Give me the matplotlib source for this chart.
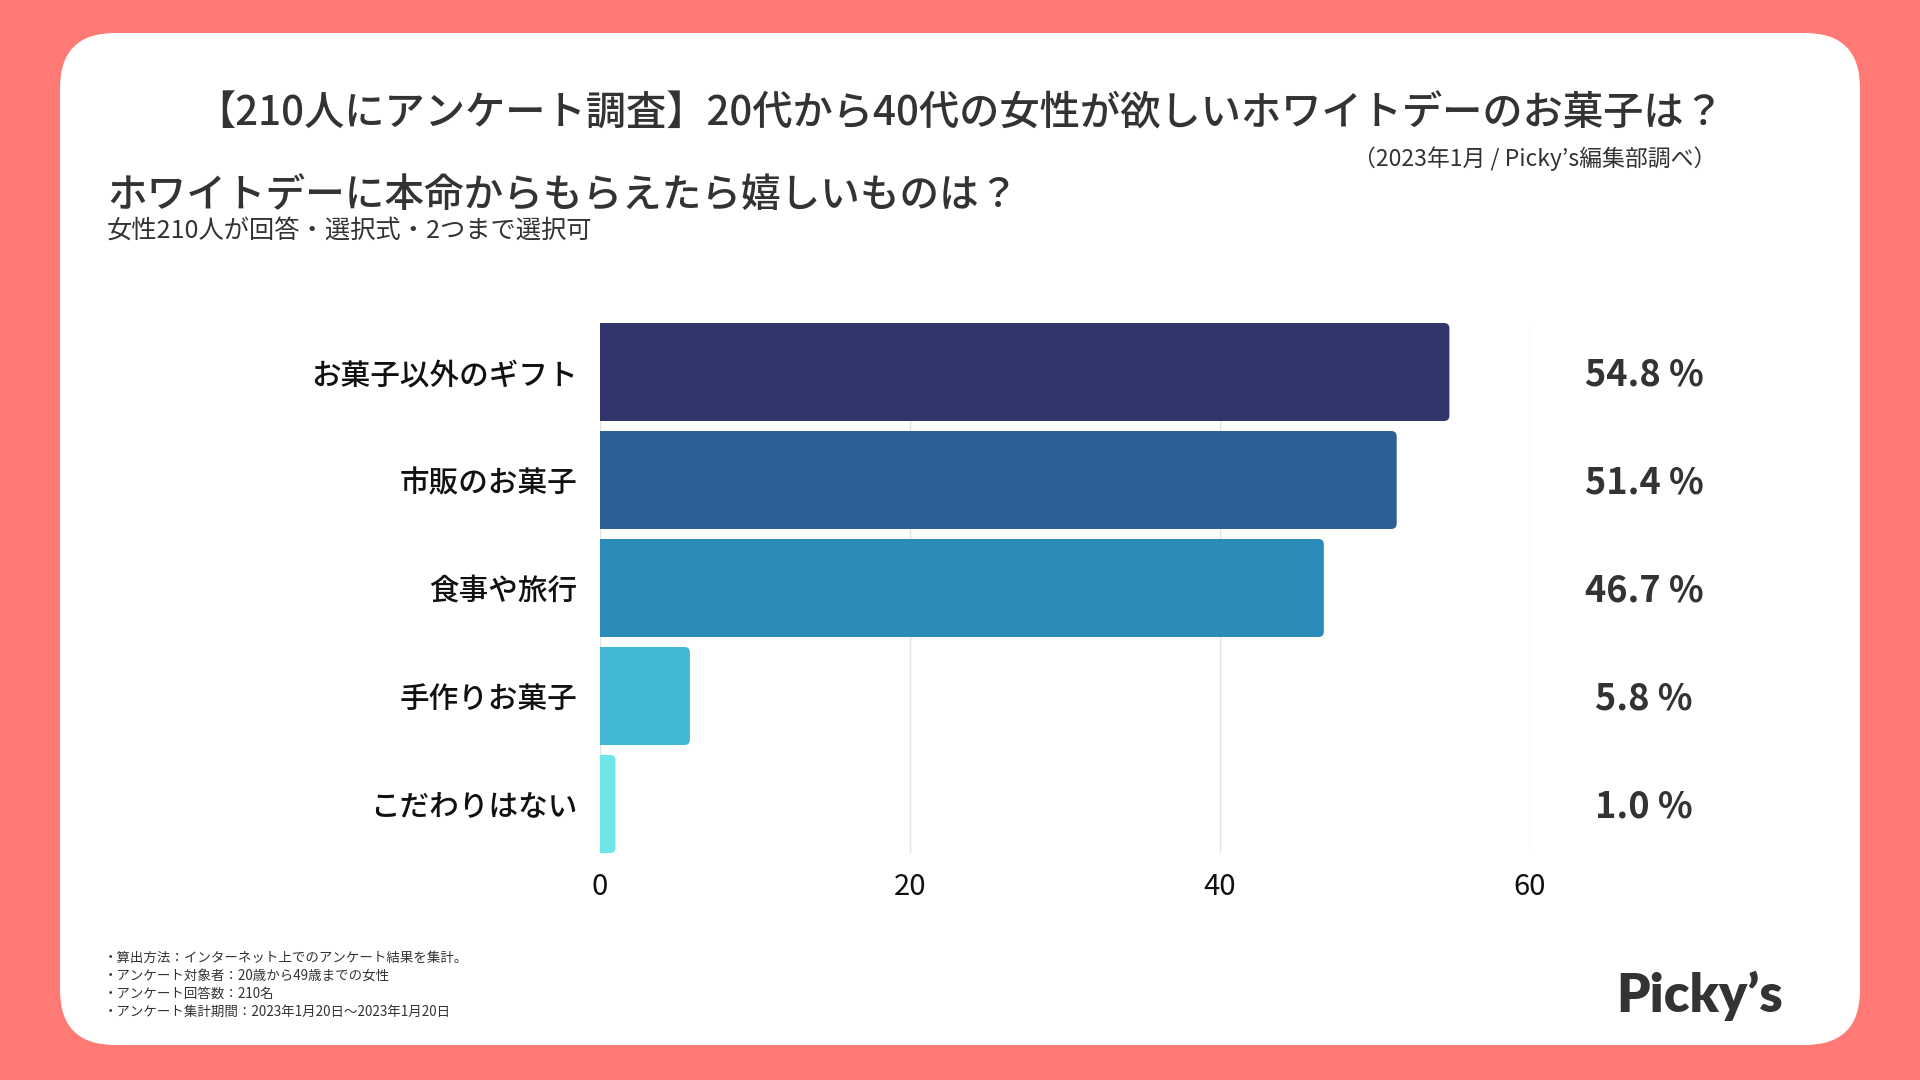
import matplotlib.pyplot as plt
from matplotlib.patches import FancyBboxPatch
from matplotlib import transforms

plt.rcParams['font.family'] = ['Noto Sans CJK JP', 'DejaVu Sans']

# データ
categories = ["お菓子以外のギフト", "市販のお菓子", "食事や旅行", "手作りお菓子", "こだわりはない"]
values = [54.8, 51.4, 46.7, 5.8, 1.0]
bar_colors = ["#31356B", "#2E5F99", "#2C8BB9", "#42B7D5", "#6EE6E8"]
xticks = [0, 20, 40, 60]

title = "【210人にアンケート調査】20代から40代の女性が欲しいホワイトデーのお菓子は？"
source = "（2023年1月 / Picky’s編集部調べ）"
subtitle = "ホワイトデーに本命からもらえたら嬉しいものは？"
subnote = "女性210人が回答・選択式・2つまで選択可"
footnotes = [
    "・算出方法：インターネット上でのアンケート結果を集計。",
    "・アンケート対象者：20歳から49歳までの女性",
    "・アンケート回答数：210名",
    "・アンケート集計期間：2023年1月20日～2023年1月20日",
]

W, H = 1920, 1080
fig = plt.figure(figsize=(W / 100, H / 100), dpi=100)
fig.patch.set_facecolor("#FF7A74")

# 背景（ピクセル座標）
bg = fig.add_axes([0, 0, 1, 1])
bg.set_xlim(0, W)
bg.set_ylim(H, 0)
bg.axis("off")
bg.add_patch(FancyBboxPatch((60, 33), 1800, 1012,
                            boxstyle="round,pad=0,rounding_size=55",
                            facecolor="white", edgecolor="none"))

bg.text(960, 114, title, ha="center", va="center", fontsize=29,
        color="#333333", fontweight="medium")
bg.text(1716, 159, source, ha="right", va="center", fontsize=16.5, color="#333333")
bg.text(107, 196, subtitle, ha="left", va="center", fontsize=28.5,
        color="#333333", fontweight="medium")
bg.text(107, 231, subnote, ha="left", va="center", fontsize=18.2, color="#333333")
for i, line in enumerate(footnotes):
    bg.text(104, 958 + i * 18, line, ha="left", va="center", fontsize=9.7, color="#333333")
bg.text(1700, 996, "Picky’s", ha="center", va="center", fontsize=38,
        fontweight="heavy", color="#333333", family=["Lato", "DejaVu Sans"])

# グラフ
ax = fig.add_axes([600 / W, (H - 853) / H, 930 / W, 530 / H])
ax.set_facecolor("none")
bar_h = 98 / 108
n = len(categories)
ax.set_xlim(0, 60)
ax.set_ylim(n - 1 + bar_h / 2, -bar_h / 2)

aspect = (108 / 15.5) ** -1
r = 0.35
for i, (v, c) in enumerate(zip(values, bar_colors)):
    ax.add_patch(FancyBboxPatch((0, i - bar_h / 2), v, bar_h,
                                boxstyle=f"round,pad=0,rounding_size={r}",
                                mutation_aspect=aspect,
                                facecolor=c, edgecolor="none", zorder=3))
    ax.barh(i, max(v - r, 0), height=bar_h, color=c, zorder=3)

ax.set_xticks(xticks)
ax.set_yticks(range(n))
ax.set_yticklabels(categories, fontsize=21.3, color="#111111", fontweight="medium")
ax.tick_params(axis="x", length=0, pad=14, labelsize=21, labelcolor="#111111")
ax.tick_params(axis="y", length=0, pad=16)
ax.grid(True, axis="x", color="#E3E3E3", linewidth=1, zorder=0)
for s in ax.spines.values():
    s.set_visible(False)

# パーセント表示
tr = transforms.blended_transform_factory(bg.transData, ax.transData)
for i, v in enumerate(values):
    bg.text(1644, i + 0.03, f"{v:.1f} %", transform=tr, ha="center", va="center",
            fontsize=26, fontweight="bold", color="#333333")

fig.savefig("out.png", dpi=100, facecolor=fig.get_facecolor())
